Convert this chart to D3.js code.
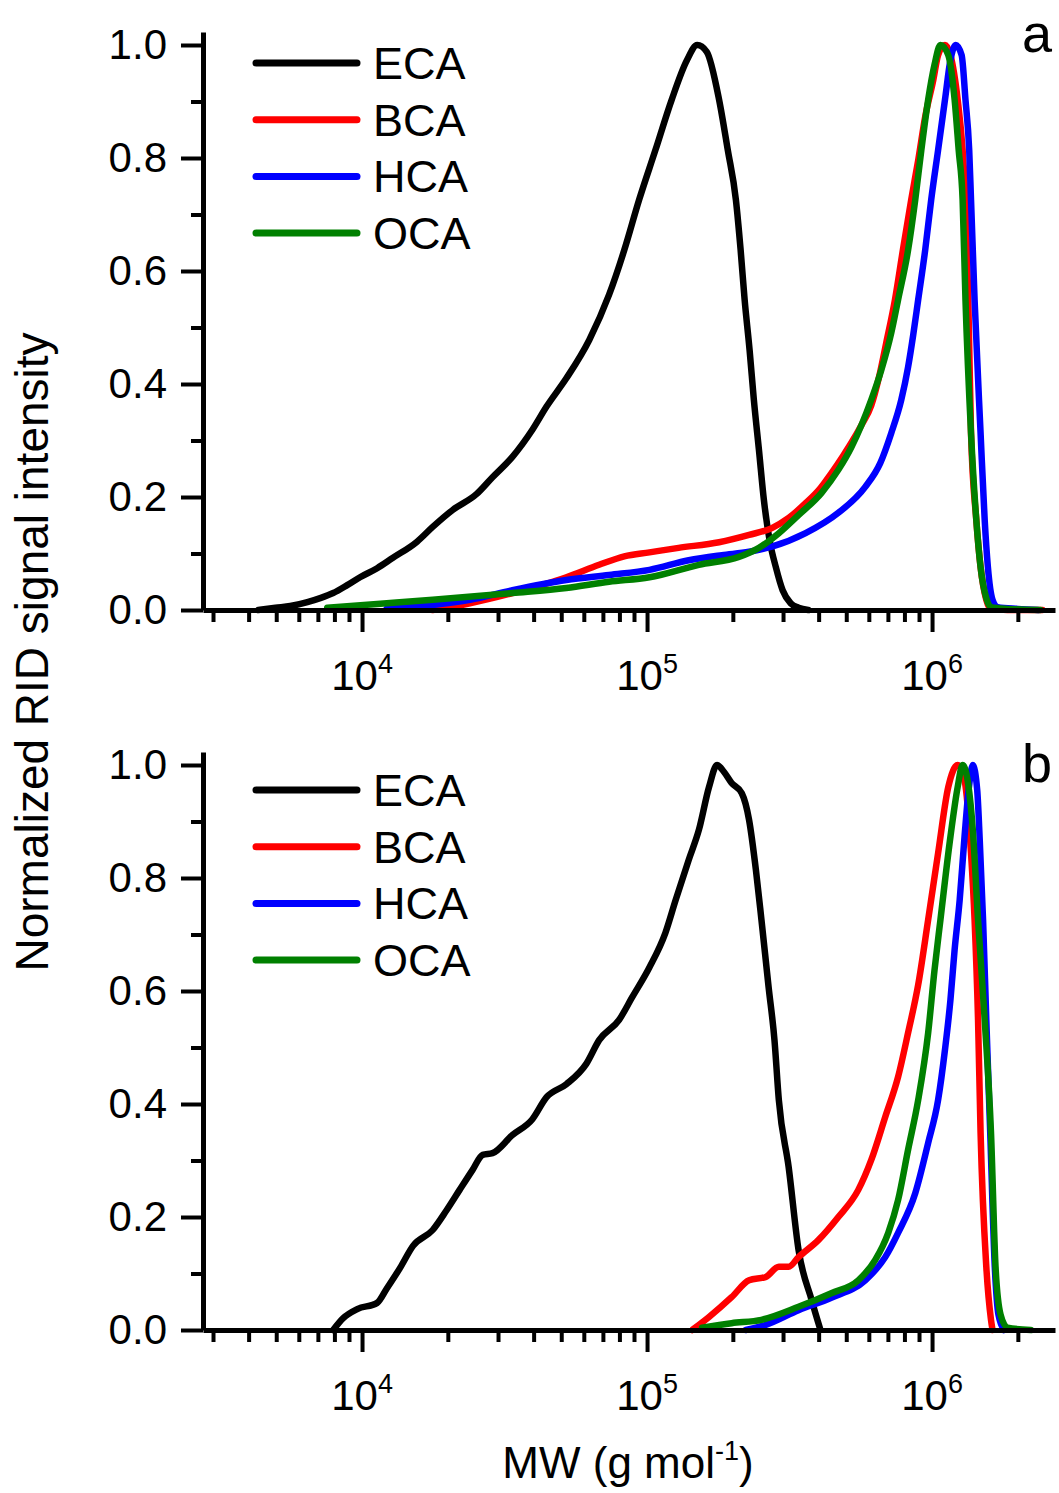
<!DOCTYPE html>
<html>
<head>
<meta charset="utf-8">
<script src="https://cdn.jsdelivr.net/npm/d3@7"></script>
<style>
  body { margin: 0; background: #fff; }
  text { font-family: Arial, "Liberation Sans", sans-serif; fill: #000; }
</style>
</head>
<body>
<div id="chart"></div>
<script>
// series names + colours
const seriesNames = ["ECA", "BCA", "HCA", "OCA"];
const seriesColors = ["#000000", "#ff0000", "#0000ff", "#008000"];

// panel a  [MW (g/mol), normalized intensity]
const aECA = [[4330,0],[4970,0.004],[5600,0.007],[6430,0.014],[7130,0.021],[7920,0.030],[8870,0.044],[9840,0.058],[11300,0.074],[12800,0.092],[15600,0.121],[17700,0.147],[20800,0.177],[25200,0.205],[28700,0.235],[33700,0.271],[39600,0.319],[44400,0.360],[52100,0.410],[62700,0.478],[73600,0.558],[83200,0.637],[93800,0.726],[107000,0.814],[122000,0.903],[138000,0.973],[150000,1.0],[162000,0.988],[179000,0.903],[192000,0.814],[205000,0.726],[213000,0.637],[220000,0.549],[229000,0.460],[237000,0.372],[247000,0.283],[257000,0.195],[269000,0.124],[283000,0.076],[299000,0.035],[319000,0.012],[340000,0.004],[368000,0]];
const aBCA = [[17700,0],[23900,0.012],[33700,0.030],[52100,0.058],[67900,0.080],[83200,0.095],[102000,0.102],[129000,0.110],[179000,0.120],[228000,0.133],[274000,0.145],[314000,0.163],[360000,0.189],[406000,0.216],[443000,0.242],[489000,0.274],[521000,0.296],[565000,0.327],[612000,0.362],[650000,0.410],[690000,0.472],[741000,0.549],[790000,0.637],[845000,0.726],[894000,0.796],[946000,0.873],[1010000,0.938],[1050000,0.982],[1110000,1.0],[1160000,0.982],[1230000,0.903],[1280000,0.814],[1310000,0.726],[1340000,0.549],[1370000,0.313],[1430000,0.159],[1480000,0.076],[1550000,0.018],[1610000,0.002],[1840000,0],[2440000,0]];
const aHCA = [[12200,0.002],[17700,0.009],[23900,0.018],[33700,0.035],[52100,0.053],[73600,0.062],[102000,0.071],[140000,0.088],[183000,0.097],[228000,0.103],[274000,0.112],[360000,0.136],[469000,0.172],[583000,0.218],[658000,0.260],[719000,0.313],[780000,0.372],[824000,0.430],[859000,0.487],[894000,0.549],[946000,0.637],[993000,0.726],[1050000,0.814],[1110000,0.903],[1160000,0.973],[1210000,1.0],[1270000,0.982],[1310000,0.903],[1350000,0.814],[1370000,0.726],[1410000,0.549],[1480000,0.313],[1530000,0.159],[1570000,0.076],[1630000,0.018],[1700000,0.005],[2000000,0.002],[2350000,0]];
const aOCA = [[7550,0.004],[11600,0.011],[17700,0.018],[33700,0.030],[52100,0.039],[73600,0.050],[102000,0.058],[152000,0.080],[210000,0.094],[247000,0.110],[290000,0.136],[340000,0.168],[409000,0.207],[469000,0.248],[521000,0.288],[565000,0.327],[612000,0.372],[664000,0.425],[719000,0.490],[760000,0.549],[824000,0.637],[873000,0.726],[917000,0.814],[969000,0.903],[1020000,0.965],[1070000,1.0],[1140000,0.982],[1200000,0.903],[1240000,0.814],[1280000,0.726],[1310000,0.549],[1370000,0.313],[1430000,0.159],[1480000,0.076],[1550000,0.021],[1610000,0.005],[1840000,0.002],[2400000,0]];

// panel b
const bECA = [[7920,0],[8590,0.021],[9620,0.037],[11300,0.048],[12200,0.073],[13600,0.110],[15100,0.149],[17700,0.177],[19800,0.212],[22000,0.248],[24400,0.283],[26500,0.310],[28700,0.313],[33700,0.345],[39600,0.373],[44400,0.412],[52100,0.435],[61200,0.471],[67900,0.513],[79800,0.549],[88700,0.589],[102000,0.642],[116000,0.703],[126000,0.761],[140000,0.832],[152000,0.885],[165000,0.961],[176000,1.0],[186000,0.988],[198000,0.968],[215000,0.950],[228000,0.903],[241000,0.814],[252000,0.726],[267000,0.607],[280000,0.513],[290000,0.407],[314000,0.288],[340000,0.142],[378000,0.053],[406000,0]];
const bBCA = [[144000,0],[165000,0.023],[198000,0.058],[228000,0.088],[261000,0.094],[290000,0.112],[314000,0.112],[340000,0.129],[399000,0.159],[469000,0.200],[551000,0.248],[612000,0.301],[685000,0.377],[760000,0.448],[824000,0.526],[894000,0.611],[969000,0.726],[1050000,0.844],[1140000,0.961],[1230000,1.0],[1300000,0.973],[1370000,0.844],[1410000,0.726],[1450000,0.549],[1480000,0.349],[1550000,0.112],[1610000,0.018],[1630000,0]];
const bHCA = [[222000,0],[261000,0.009],[340000,0.035],[443000,0.057],[583000,0.088],[685000,0.129],[760000,0.172],[873000,0.242],[969000,0.331],[1050000,0.407],[1110000,0.496],[1160000,0.584],[1200000,0.673],[1250000,0.761],[1300000,0.873],[1350000,0.965],[1390000,1.0],[1440000,0.956],[1470000,0.867],[1510000,0.726],[1550000,0.549],[1600000,0.349],[1660000,0.112],[1710000,0.027],[1790000,0]];
const bOCA = [[156000,0.004],[198000,0.012],[252000,0.018],[340000,0.041],[443000,0.065],[551000,0.088],[632000,0.124],[702000,0.172],[760000,0.230],[824000,0.319],[894000,0.407],[969000,0.526],[1020000,0.637],[1070000,0.726],[1160000,0.873],[1230000,0.961],[1280000,1.0],[1340000,0.965],[1390000,0.885],[1450000,0.726],[1530000,0.549],[1610000,0.349],[1670000,0.112],[1740000,0.027],[1840000,0.004],[2220000,0]];

// axis ticks
const xMajor = [1e4, 1e5, 1e6];
const xExponents = ["4", "5", "6"];
const xMinor = [3e3,4e3,5e3,6e3,7e3,8e3,9e3,2e4,3e4,4e4,5e4,6e4,7e4,8e4,9e4,2e5,3e5,4e5,5e5,6e5,7e5,8e5,9e5,2e6];
const yMajor = [0, 0.2, 0.4, 0.6, 0.8, 1.0];
const yMinor = [0.1, 0.3, 0.5, 0.7, 0.9];

const width = 1059, height = 1493;
const svg = d3.select("#chart").append("svg")
  .attr("width", width)
  .attr("height", height);
svg.append("rect").attr("width", width).attr("height", height).attr("fill", "#fff");

const x = d3.scaleLog().domain([2767, 2.70e6]).range([203, 1055]);

const panels = [
  { label: "a", top: 32, bottom: 610, legendY: 63, letterY: 52, series: [aECA, aBCA, aHCA, aOCA] },
  { label: "b", top: 752, bottom: 1330, legendY: 790, letterY: 782, series: [bECA, bBCA, bHCA, bOCA] },
];

panels.forEach((p) => {
  const y = d3.scaleLinear().domain([0, 1.023]).range([p.bottom, p.top]);
  const g = svg.append("g");

  // data lines, OCA ends up on top
  const line = d3.line()
    .x((d) => x(d[0]))
    .y((d) => y(d[1]))
    .curve(d3.curveMonotoneX);
  p.series.forEach((s, i) => {
    g.append("path")
      .attr("d", line(s))
      .attr("fill", "none")
      .attr("stroke", seriesColors[i])
      .attr("stroke-width", 6.5)
      .attr("stroke-linejoin", "round")
      .attr("stroke-linecap", "round");
  });

  // y axis: minor then major
  g.append("g")
    .attr("transform", `translate(203,0)`)
    .call(d3.axisLeft(y).tickValues(yMinor).tickSize(12).tickSizeOuter(0).tickFormat(""))
    .call((a) => a.select(".domain").remove());
  const yAx = g.append("g")
    .attr("transform", `translate(203,0)`)
    .call(d3.axisLeft(y).tickValues(yMajor).tickSize(22).tickSizeOuter(0).tickPadding(14).tickFormat(d3.format(".1f")));
  yAx.selectAll("text").attr("font-size", 42).attr("font-family", null);

  // x axis: minor then major
  g.append("g")
    .attr("transform", `translate(0,${p.bottom})`)
    .call(d3.axisBottom(x).tickValues(xMinor).tickSize(12).tickSizeOuter(0).tickFormat(""))
    .call((a) => a.select(".domain").remove());
  g.append("g")
    .attr("transform", `translate(0,${p.bottom})`)
    .call(d3.axisBottom(x).tickValues(xMajor).tickSize(22).tickSizeOuter(0).tickFormat(""));

  g.selectAll(".tick line").attr("stroke", "#000").attr("stroke-width", 4);
  g.selectAll(".domain").attr("stroke", "#000").attr("stroke-width", 5);

  // decade labels 10^n
  xMajor.forEach((v, i) => {
    const t = g.append("text")
      .attr("x", x(v))
      .attr("y", p.bottom + 80)
      .attr("text-anchor", "middle");
    t.append("tspan").attr("font-size", 42).text("10");
    t.append("tspan").attr("font-size", 27).attr("dy", -17).text(xExponents[i]);
  });

  // legend
  seriesNames.forEach((name, i) => {
    const ly = p.legendY + i * 56.7;
    g.append("line")
      .attr("x1", 256).attr("x2", 357)
      .attr("y1", ly).attr("y2", ly)
      .attr("stroke", seriesColors[i])
      .attr("stroke-width", 7)
      .attr("stroke-linecap", "round");
    g.append("text")
      .attr("x", 373)
      .attr("y", ly + 16)
      .attr("font-size", 45)
      .text(name);
  });

  // panel letter
  g.append("text")
    .attr("x", 1052)
    .attr("y", p.letterY)
    .attr("text-anchor", "end")
    .attr("font-size", 54)
    .text(p.label);
});

// axis titles
svg.append("text")
  .attr("transform", "translate(48,652) rotate(-90)")
  .attr("text-anchor", "middle")
  .attr("font-size", 46)
  .text("Normalized RID signal intensity");

const xt = svg.append("text")
  .attr("x", 628)
  .attr("y", 1478)
  .attr("text-anchor", "middle")
  .attr("font-size", 44);
xt.append("tspan").text("MW (g mol");
xt.append("tspan").attr("font-size", 27).attr("dy", -18).text("-1");
xt.append("tspan").attr("dy", 18).text(")");
</script>
</body>
</html>
